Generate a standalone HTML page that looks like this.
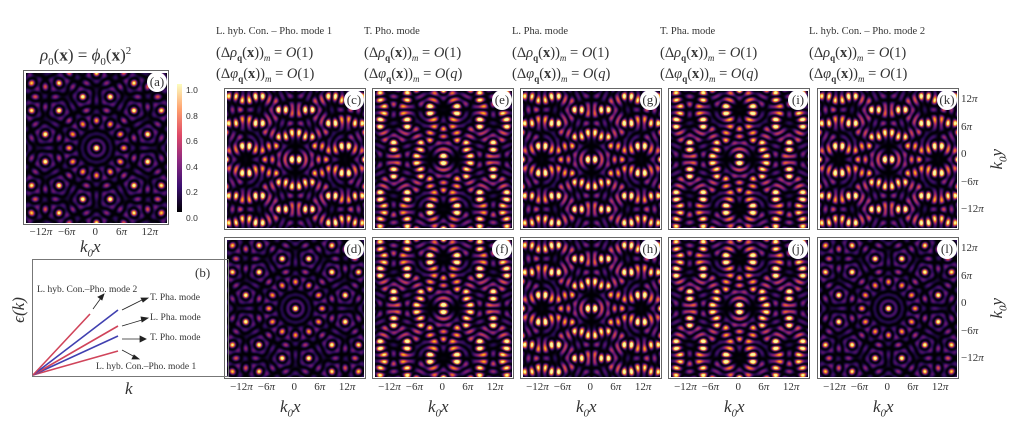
<!DOCTYPE html>
<html><head><meta charset="utf-8"><style>
body{margin:0;background:#fff;width:1024px;height:425px;position:relative;overflow:hidden;font-family:"Liberation Serif",serif;color:#333}
.t{position:absolute;white-space:nowrap}
.box{position:absolute;border:1.5px solid #666;padding:1.5px;background:#fff}
.box canvas{display:block}
.lab{position:absolute;right:1px;top:1px;width:20px;height:20px;border-radius:50%;background:#fff;font-size:13px;text-align:center;line-height:19px}
.hd{font-size:10.5px}
.fm{font-size:14.5px}
.tk{font-size:11px}
.ax{font-size:17px;font-style:italic}
</style></head><body>
<div class="t" style="left:40px;top:45px;font-size:17px"><i>ρ</i><sub style="font-size:11px">0</sub>(<b>x</b>) = <i>ϕ</i><sub style="font-size:11px">0</sub>(<b>x</b>)<sup style="font-size:11px">2</sup></div>

<div id="panels"></div>

<div style="position:absolute;left:177px;top:84px;width:5px;height:128px;background:linear-gradient(to top,#000004,#3b0f70 20%,#8c2981 40%,#de4968 60%,#fe9f6d 80%,#fcfdbf)"></div>
<div class="t" style="left:186px;top:78px;font-family:'Liberation Sans',sans-serif;font-size:8.5px;line-height:25.6px">1.0<br>0.8<br>0.6<br>0.4<br>0.2<br>0.0</div>

<div style="position:absolute;left:32px;top:259px;width:195px;height:116px;border:1.5px solid #777"></div>
<svg style="position:absolute;left:0;top:0" width="1024" height="425">
<g stroke-width="1.6">
<line x1="33" y1="375" x2="118" y2="351" stroke="#d0445a"/>
<line x1="33" y1="375" x2="118" y2="336" stroke="#4040b0"/>
<line x1="33" y1="375" x2="118" y2="326" stroke="#d0445a"/>
<line x1="33" y1="375" x2="118" y2="310" stroke="#4040b0"/>
<line x1="33" y1="375" x2="90" y2="314" stroke="#d0445a"/>
</g>
<g stroke="#222" stroke-width="0.8" fill="#222">
<line x1="122" y1="350" x2="135" y2="357"/><polygon points="139,359 132,359 134,355"/>
<line x1="122" y1="339" x2="140" y2="339"/><polygon points="146,339 140,336 140,342"/>
<line x1="122" y1="326" x2="142" y2="320"/><polygon points="148,318 141,317 142,322"/>
<line x1="122" y1="310" x2="142" y2="300"/><polygon points="148,298 141,298 143,302"/>
<line x1="93" y1="309" x2="101" y2="298"/><polygon points="104,294 98,297 102,300"/>
</g>
</svg>
<div class="t" style="left:195px;top:265px;font-size:13px">(b)</div>
<div class="t" style="left:37px;top:285px;font-size:9.5px">L. hyb. Con.–Pho. mode 2</div>
<div class="t" style="left:150px;top:293px;font-size:9.5px">T. Pha. mode</div>
<div class="t" style="left:150px;top:313px;font-size:9.5px">L. Pha. mode</div>
<div class="t" style="left:150px;top:333px;font-size:9.5px">T. Pho. mode</div>
<div class="t" style="left:96px;top:362px;font-size:9.5px">L. hyb. Con.–Pho. mode 1</div>
<div class="t ax" style="left:125px;top:379px">k</div>
<div class="t ax" style="left:6px;top:300px;transform:rotate(-90deg)">ϵ(k)</div>

<script>
const P=[
 {x:23,y:70,w:141,h:150,m:0,l:'a'},
 {x:224,y:88,m:1,l:'c'},{x:372,y:88,m:2,l:'e'},{x:520,y:88,m:1,l:'g'},{x:668,y:88,m:2,l:'i'},{x:817,y:88,m:1,l:'k'},
 {x:224,y:237,m:0,l:'d'},{x:372,y:237,m:2,l:'f'},{x:520,y:237,m:1,l:'h'},{x:668,y:237,m:2,l:'j'},{x:817,y:237,m:0,l:'l'}
];
const cm=[[0,0,4],[40,11,84],[101,21,110],[159,42,99],[212,72,66],[245,125,21],[250,193,39],[252,255,164]];
function col(v){v=Math.max(0,Math.min(1,v))*(cm.length-1);const i=Math.min(cm.length-2,Math.floor(v)),f=v-i;return cm[i].map((c,k)=>c+(cm[i+1][k]-c)*f);}
const K=[];for(let j=0;j<6;j++){const a=j*Math.PI/6;K.push([Math.cos(a),Math.sin(a)]);}
const root=document.getElementById('panels');
for(const p of P){
 const w=p.w||137,h=p.h||137;
 const b=document.createElement('div');b.className='box';b.style.left=p.x+'px';b.style.top=p.y+'px';
 const c=document.createElement('canvas');c.width=w;c.height=h;b.appendChild(c);
 const lb=document.createElement('div');lb.className='lab';lb.textContent='('+p.l+')';b.appendChild(lb);
 root.appendChild(b);
 const ctx=c.getContext('2d'),im=ctx.createImageData(w,h),R=11*Math.PI;
 for(let j=0;j<h;j++)for(let i=0;i<w;i++){
  const X=(i/(w-1)*2-1)*R,Y=-(j/(h-1)*2-1)*R*(h/w);
  let S=0,dx=0,dy=0;
  for(const k of K){const ph=k[0]*X+k[1]*Y;S+=Math.cos(ph);const s=Math.sin(ph);dx-=k[0]*s;dy-=k[1]*s;}
  let v;
  if(p.m==0)v=(S/6)**2;else if(p.m==1)v=(dx/3.2)**2;else v=(dy/3.2)**2;
  v=Math.min(1,v*1.4);
  const q=col(v),o=(j*w+i)*4;im.data[o]=q[0];im.data[o+1]=q[1];im.data[o+2]=q[2];im.data[o+3]=255;
 }
 ctx.putImageData(im,0,0);
}
const hdr=[['L. hyb. Con. – Pho. mode 1','(1)'],['T. Pho. mode','(<i>q</i>)'],['L. Pha. mode','(<i>q</i>)'],['T. Pha. mode','(<i>q</i>)'],['L. hyb. Con. – Pho. mode 2','(1)']];
const xs=[224,372,520,668,817];
const tl=['−12<i>π</i>','−6<i>π</i>','0','6<i>π</i>','12<i>π</i>'];
function xt(x,y,w){let s='';const off=[-11,-10,-3,-7,-9];tl.forEach((t,n)=>{const cx=x+w/2+(n-2)*(w*0.195);s+=`<div class="t tk" style="left:${cx+off[n]}px;top:${y}px">${t}</div>`;});return s;}
let H='';
xs.forEach((x,n)=>{
 H+=`<div class="t hd" style="left:${x-8}px;top:26px">${hdr[n][0]}</div>`;
 H+=`<div class="t fm" style="left:${x-8}px;top:45px">(Δ<i>ρ</i><sub style="font-size:9px"><b>q</b></sub>(<b>x</b>))<sub style="font-size:9px"><i>m</i></sub> = <i>O</i>(1)</div>`;
 H+=`<div class="t fm" style="left:${x-8}px;top:66px">(Δ<i>φ</i><sub style="font-size:9px"><b>q</b></sub>(<b>x</b>))<sub style="font-size:9px"><i>m</i></sub> = <i>O</i>${hdr[n][1]}</div>`;
 H+=xt(x+2,381,137);
 H+=`<div class="t ax" style="left:${x+56}px;top:397px">k<sub style="font-size:11px">0</sub>x</div>`;
});
H+=xt(25,226,141);
H+=`<div class="t ax" style="left:80px;top:237px">k<sub style="font-size:11px">0</sub>x</div>`;
[92,241].forEach(y0=>{
 const labs=['12<i>π</i>','6<i>π</i>','0','−6<i>π</i>','−12<i>π</i>'];
 labs.forEach((s,n)=>{H+=`<div class="t tk" style="left:961px;top:${y0+1+n*27.5}px">${s}</div>`;});
 H+=`<div class="t ax" style="left:988px;top:${y0+56}px;transform:rotate(-90deg)">k<sub style="font-size:11px">0</sub>y</div>`;
});
root.insertAdjacentHTML('beforeend',H);
</script>
</body></html>
